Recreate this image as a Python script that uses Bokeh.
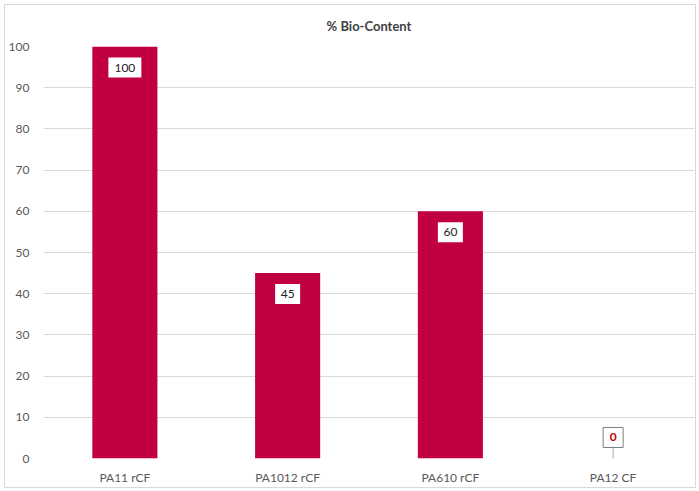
from bokeh.plotting import figure
from bokeh.layouts import column
from bokeh.models import ColumnDataSource, FixedTicker, Range1d
from bokeh.transform import dodge
from bokeh.core.properties import value
from bokeh.embed import file_html
from bokeh.resources import INLINE

categories = ["PA11 rCF", "PA1012 rCF", "PA610 rCF", "PA12 CF"]
bio_content = [100, 45, 60, 0]
y_ticks = [0, 10, 20, 30, 40, 50, 60, 70, 80, 90, 100]

BAR = "#C00041"
FONT = "Lato"

p = figure(x_range=categories, width=690, height=482, output_backend="svg",
           toolbar_location=None, min_border_left=34, min_border_right=1,
           min_border_top=41, min_border_bottom=24)
p.y_range = Range1d(0, 100)
p.title.text = "% Bio-Content"
p.title.align = "center"
p.title.vertical_align = "top"
p.title.text_font = FONT
p.title.text_font_size = "13px"
p.title.text_color = "#404040"
p.title.standoff = 22
p.outline_line_color = None
p.background_fill_color = "white"
p.border_fill_color = "white"

src = ColumnDataSource(dict(cat=categories, val=bio_content,
                            txt=[str(v) for v in bio_content]))
p.vbar(x="cat", top="val", width=0.4, source=src, color=BAR, line_color=None)

nz = [i for i, v in enumerate(bio_content) if v != 0]
z = [i for i, v in enumerate(bio_content) if v == 0]
src_nz = ColumnDataSource(dict(cat=[categories[i] for i in nz], val=[bio_content[i] for i in nz],
                               txt=[str(bio_content[i]) for i in nz],
                               w=[9 + 8 * len(str(bio_content[i])) for i in nz]))
src_z = ColumnDataSource(dict(cat=[categories[i] for i in z], val=[bio_content[i] for i in z],
                              txt=[str(bio_content[i]) for i in z]))

# labels inside bars (white boxes)
p.rect(x="cat", y=dodge("val", -5.1), width="w", height=20, width_units="screen",
       height_units="screen", source=src_nz, fill_color="white", line_color=None)
p.text(x="cat", y=dodge("val", -5.1), text="txt", source=src_nz, text_align="center",
       text_baseline="middle", text_font=value(FONT), text_font_size="12px",
       text_color="#222222")

# zero label with leader line
p.segment(x0="cat", y0="val", x1="cat", y1=dodge("val", 2.7), source=src_z,
          line_color="#a6a6a6", line_width=1)
p.rect(x="cat", y=dodge("val", 5.1), width=20, height=20, width_units="screen",
       height_units="screen", source=src_z, fill_color="white", line_color="#7f7f7f",
       line_width=1)
p.text(x="cat", y=dodge("val", 5.1), text="txt", source=src_z, text_align="center",
       text_baseline="middle", text_font=value(FONT), text_font_size="12px",
       text_font_style="bold", text_color="#C00000")

p.xaxis.axis_line_color = None
p.xaxis.major_tick_line_color = None
p.xaxis.minor_tick_line_color = None
p.xaxis.major_label_text_font = FONT
p.xaxis.major_label_text_font_size = "12px"
p.xaxis.major_label_text_color = "#595959"
p.xaxis.major_label_standoff = 5

p.yaxis.axis_line_color = None
p.yaxis.major_tick_line_color = None
p.yaxis.minor_tick_line_color = None
p.yaxis.ticker = FixedTicker(ticks=y_ticks)
p.yaxis.major_label_text_font = FONT
p.yaxis.major_label_text_font_size = "12px"
p.yaxis.major_label_text_color = "#595959"
p.yaxis.major_label_standoff = 8

p.xgrid.grid_line_color = None
p.ygrid.grid_line_color = "#d9d9d9"
p.ygrid.ticker = FixedTicker(ticks=y_ticks)

layout = column(p, margin=(4, 4, 4, 4),
                styles={"border": "1px solid #d9d9d9", "background-color": "white"})

open("out.html", "w").write(file_html(layout, INLINE))
